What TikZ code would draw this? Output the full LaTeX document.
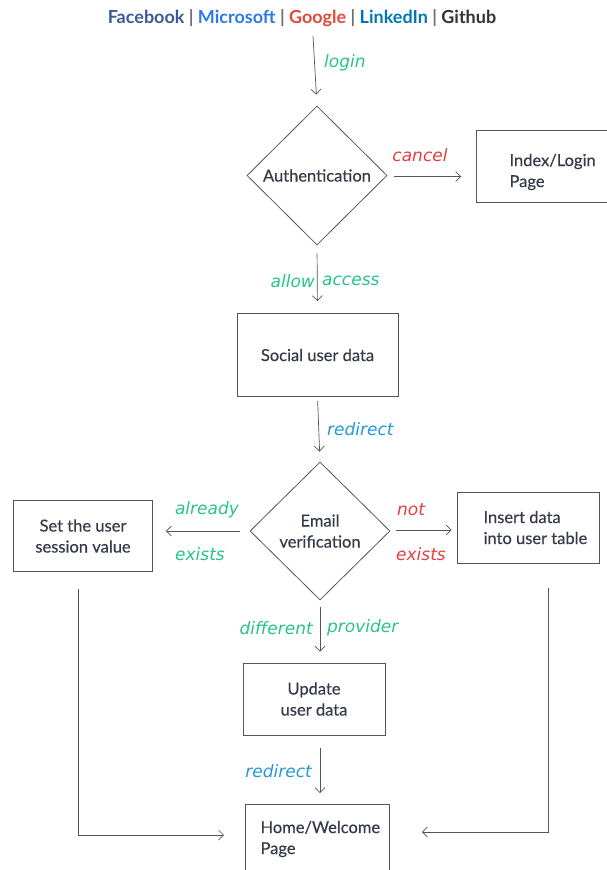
\documentclass[tikz,border=0pt]{standalone}
\usepackage{fontspec}
\newfontfamily\gill[FakeBold=0.35]{Lato}
\newfontfamily\gillb{Lato Bold}
\newfontfamily\hand{DejaVu Sans}
\usetikzlibrary{shapes.geometric,arrows.meta}

\definecolor{ink}{RGB}{52,58,72}
\definecolor{edge}{RGB}{85,85,85}
\definecolor{hgreen}{RGB}{38,196,138}
\definecolor{hred}{RGB}{228,62,62}
\definecolor{hblue}{RGB}{36,152,214}
\definecolor{cfb}{RGB}{59,89,152}
\definecolor{cms}{RGB}{45,122,228}
\definecolor{cgo}{RGB}{221,75,57}
\definecolor{cli}{RGB}{0,119,181}
\definecolor{cgh}{RGB}{51,51,51}
\definecolor{cbar}{RGB}{110,112,120}

\tikzset{
  txt/.style={font=\gill\fontsize{16.5}{21}\selectfont, text=ink},
  stepbox/.style={draw=edge, line width=0.8pt, rectangle, inner sep=0pt},
  decide/.style={draw=edge, line width=0.8pt, diamond, inner sep=0pt,
                 minimum width=140pt, minimum height=139pt, txt, align=center},
  arr/.style={draw=edge, line width=0.7pt,
              -{Straight Barb[length=5pt,width=10pt,line width=0.7pt]}},
  hand/.style={font=\hand\itshape\fontsize{17}{19}\selectfont, inner sep=0pt},
}

\begin{document}
\begin{tikzpicture}[x=1pt,y=-1pt]
\useasboundingbox (0,0) rectangle (607,870);

% heading with the login providers
\node (title) at (302,18) {\gillb\fontsize{18}{20}\selectfont
  \textcolor{cfb}{Facebook} \textcolor{cbar}{|}
  \textcolor{cms}{Microsoft} \textcolor{cbar}{|}
  \textcolor{cgo}{Google} \textcolor{cbar}{|}
  \textcolor{cli}{LinkedIn} \textcolor{cbar}{|}
  \textcolor{cgh}{Github}};
\coordinate (loginstart) at (313,36);

% decisions
\node[decide] (auth) at (317,175.5) {Authentication};
\node[decide, minimum width=140pt, minimum height=138pt] (email) at (320,531) {Email\\verification};

% boxes
\node[stepbox, minimum width=140pt, minimum height=72pt, anchor=north west] (index) at (476,130) {};
\node[txt, anchor=west, align=left] (indext) at (506,172) {Index/Login\\Page};

\node[stepbox, txt, minimum width=161pt, minimum height=83pt] (social) at (317.5,355) {Social user data};

\node[stepbox, txt, minimum width=139pt, minimum height=71pt, align=center] (session) at (83,536) {Set the user\\session value};

\node[stepbox, minimum width=142pt, minimum height=71pt] (insert) at (528,527.5) {};
\node[txt, anchor=west, align=left] (insertt) at (480,527.5) {Insert data\\into user table};

\node[stepbox, txt, minimum width=142pt, minimum height=72pt, align=center] (update) at (314,699) {Update\\user data};

\node[stepbox, minimum width=144pt, minimum height=80pt, anchor=north west] (home) at (245,804) {};
\node[txt, anchor=west, align=left] (homet) at (257,839) {Home/Welcome\\Page};

% connectors
\draw[arr, shorten >=11pt] (loginstart) -- (auth.north);
\draw[arr, shorten <=7pt, shorten >=15pt] ([yshift=-1pt]auth.east) -- ([yshift=-1pt]auth.east -| index.west);
\draw[arr, shorten <=8pt, shorten >=12pt] (auth.south) -- (social.north);
\draw[arr, shorten <=4pt, shorten >=10pt] (social.south) -- (email.north);
\draw[arr, shorten <=10pt, shorten >=13pt] (email.west) -- (email.west -| session.east);
\draw[arr, shorten <=6pt, shorten >=5pt] ([yshift=1pt]email.east) -- ([yshift=1pt]email.east -| insert.west);
\draw[arr, shorten <=7pt, shorten >=11pt] (email.south) -- (email.south |- update.north);
\draw[arr, shorten <=13pt, shorten >=11pt] ([xshift=6pt]update.south) -- ([xshift=6pt]update.south |- home.north);
\draw[arr] ([xshift=-5pt,yshift=-17pt]session.south) |- ([xshift=-21pt,yshift=-31pt]home.north west);
\draw[arr] ([xshift=20pt,yshift=-25pt]insert.south) |- ([xshift=32pt,yshift=-28pt]home.north east);

% connector labels
\node[hand, text=hgreen, anchor=west] (llogin) at (324,63) {login};
\node[hand, text=hred] (lcancel) at (420,155) {cancel};
\node[hand, text=hgreen, anchor=east] (lallow) at (315,281) {allow};
\node[hand, text=hgreen, anchor=west] (laccess) at (322,281) {access};
\node[hand, text=hblue, anchor=west] (lredir) at (327,429) {redirect};
\node[hand, text=hgreen] (lalready) at (207,510) {already};
\node[hand, text=hgreen] (lexists) at (200,554) {exists};
\node[hand, text=hred] (lnot) at (411,510) {not};
\node[hand, text=hred] (lnexists) at (421,554) {exists};
\node[hand, text=hgreen, anchor=east] (ldiff) at (313,628) {different};
\node[hand, text=hgreen, anchor=west] (lprov) at (327,628) {provider};
\node[hand, text=hblue, anchor=east] (lredir2) at (312,771) {redirect};
\end{tikzpicture}
\end{document}
